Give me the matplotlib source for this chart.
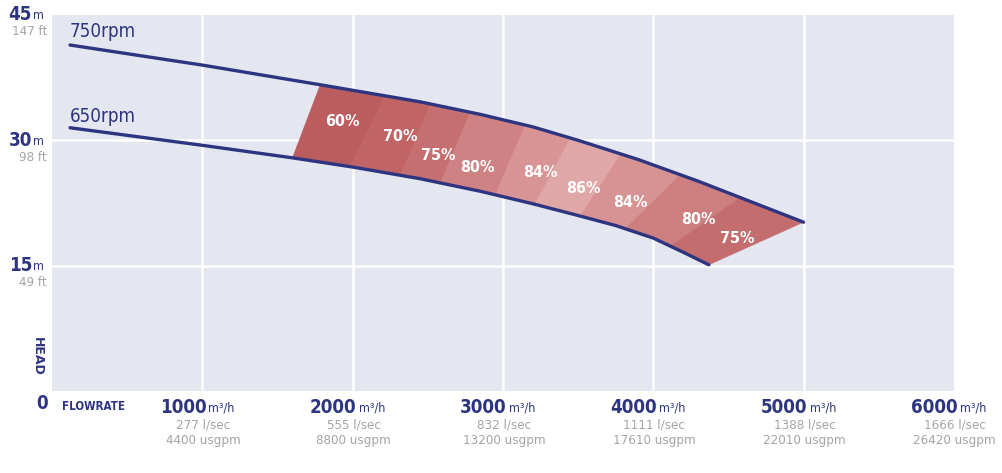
import numpy as np
import matplotlib
matplotlib.use("Agg")
import matplotlib.pyplot as plt

# curve data (flow m3/h, head m)
flow_750 = [120, 1000, 1800, 2450, 2850, 3200, 3500, 3900, 4300, 4700, 5000]
head_750 = [41.4, 39.0, 36.6, 34.6, 33.1, 31.6, 30.0, 27.7, 25.1, 22.3, 20.2]
flow_650 = [120, 1000, 1600, 2000, 2450, 2850, 3200, 3500, 3750, 4000, 4200, 4370]
head_650 = [31.5, 29.4, 27.9, 26.8, 25.4, 23.9, 22.4, 21.0, 19.8, 18.3, 16.6, 15.1]

# efficiency zones: boundary flows on lower (650) and upper (750) curve
zone_lower = [1600, 1985, 2320, 2585, 2950, 3215, 3515, 3815, 4115, 4370]
zone_upper = [1785, 2220, 2520, 2785, 3150, 3450, 3785, 4180, 4580, 5000]
zone_colors = ["#bb5c5e", "#c06466", "#c66f70", "#cf8283", "#d99596",
               "#e0a7a7", "#d79293", "#cd7f80", "#c46d6e"]

eff_labels = ["60%", "70%", "75%", "80%", "84%", "86%", "84%", "80%", "75%"]
eff_flow = [1930, 2320, 2570, 2830, 3250, 3535, 3850, 4300, 4560]
eff_head = [32.2, 30.4, 28.2, 26.8, 26.2, 24.2, 22.5, 20.5, 18.3]

xticks = [1000, 2000, 3000, 4000, 5000, 6000]
lsec = ["277 l/sec", "555 l/sec", "832 l/sec", "1111 l/sec", "1388 l/sec", "1666 l/sec"]
usgpm = ["4400 usgpm", "8800 usgpm", "13200 usgpm", "17610 usgpm", "22010 usgpm", "26420 usgpm"]

yticks = [45, 30, 15]
feet = ["147 ft", "98 ft", "49 ft"]

NAVY = "#2e3580"
GREY = "#a4a4a4"
BG = "#e4e6f0"

plt.rcParams['font.family'] = ['DejaVu Sans']
plt.rcParams['font.stretch'] = 'condensed'

fig = plt.figure(figsize=(10.02, 4.73), dpi=100)
ax = fig.add_axes([0.0519, 0.1734, 0.9, 0.795])
ax.set_facecolor(BG)
ax.set_xlim(0, 6000)
ax.set_ylim(0, 45)
for s in ax.spines.values():
    s.set_visible(False)
ax.set_xticks([])
ax.set_yticks([])

for x in xticks[:-1]:
    ax.axvline(x, color="white", lw=1.8, zorder=1)
for y in [15, 30]:
    ax.axhline(y, color="white", lw=1.8, zorder=1)

# efficiency band made of zones between the two curves
for i, c in enumerate(zone_colors):
    lo0, lo1 = zone_lower[i], zone_lower[i + 1]
    up0, up1 = zone_upper[i], zone_upper[i + 1]
    lx = np.linspace(lo0, lo1, 30)
    ly = np.interp(lx, flow_650, head_650)
    ux = np.linspace(up1, up0, 30)
    uy = np.interp(ux, flow_750, head_750)
    ax.fill(np.concatenate([lx, ux]), np.concatenate([ly, uy]),
            color=c, lw=0.4, ec=c, zorder=2)

ax.plot(flow_750, head_750, color=NAVY, lw=2.4, zorder=3, solid_capstyle="round")
ax.plot(flow_650, head_650, color=NAVY, lw=2.4, zorder=3, solid_capstyle="round")

ax.text(120, 43.0, "750rpm", color=NAVY, fontsize=13.5, va="center", ha="left")
ax.text(120, 32.9, "650rpm", color=NAVY, fontsize=13.5, va="center", ha="left")

for lab, fx, hy in zip(eff_labels, eff_flow, eff_head):
    ax.text(fx, hy, lab, color="white", fontsize=11.5, fontweight="bold",
            ha="center", va="center", zorder=4)

# x labels
xtr = ("data", "axes fraction")
for x, a, b in zip(xticks, lsec, usgpm):
    ax.annotate(str(x), xy=(x, 0), xycoords=xtr, xytext=(4, -17),
                textcoords="offset pixels", ha="right", va="center",
                color=NAVY, fontsize=13.5, fontweight="bold", annotation_clip=False)
    ax.annotate("m³/h", xy=(x, 0), xycoords=xtr, xytext=(6, -17),
                textcoords="offset pixels", ha="left", va="center",
                color=NAVY, fontsize=9, annotation_clip=False)
    ax.annotate(a, xy=(x, 0), xycoords=xtr, xytext=(1, -34),
                textcoords="offset pixels", ha="center", va="center",
                color=GREY, fontsize=9.5, annotation_clip=False)
    ax.annotate(b, xy=(x, 0), xycoords=xtr, xytext=(1, -50),
                textcoords="offset pixels", ha="center", va="center",
                color=GREY, fontsize=9.5, annotation_clip=False)

# y labels
ytr = ("axes fraction", "data")
for y, ft in zip(yticks, feet):
    ax.annotate(str(y), xy=(0, y), xycoords=ytr, xytext=(-20, 0),
                textcoords="offset pixels", ha="right", va="center",
                color=NAVY, fontsize=13.5, fontweight="bold", annotation_clip=False)
    ax.annotate("m", xy=(0, y), xycoords=ytr, xytext=(-19, -1),
                textcoords="offset pixels", ha="left", va="center",
                color=NAVY, fontsize=9, annotation_clip=False)
    ax.annotate(ft, xy=(0, y), xycoords=ytr, xytext=(-5, -17),
                textcoords="offset pixels", ha="right", va="center",
                color=GREY, fontsize=9.5, annotation_clip=False)

ax.annotate("0", xy=(0, 0), xycoords="axes fraction", xytext=(-10, -13),
            textcoords="offset pixels", ha="center", va="center",
            color=NAVY, fontsize=13.5, fontweight="bold", annotation_clip=False)
ax.annotate("FLOWRATE", xy=(0, 0), xycoords="axes fraction", xytext=(10, -16),
            textcoords="offset pixels", ha="left", va="center",
            color=NAVY, fontsize=8.3, fontweight="bold", annotation_clip=False)
ax.annotate("HEAD", xy=(0, 0), xycoords="axes fraction", xytext=(-15, 35),
            textcoords="offset pixels", ha="center", va="center", rotation=-90,
            color=NAVY, fontsize=9, fontweight="bold", fontstretch="normal",
            annotation_clip=False)

fig.savefig("out.png", dpi=100, facecolor="white")
